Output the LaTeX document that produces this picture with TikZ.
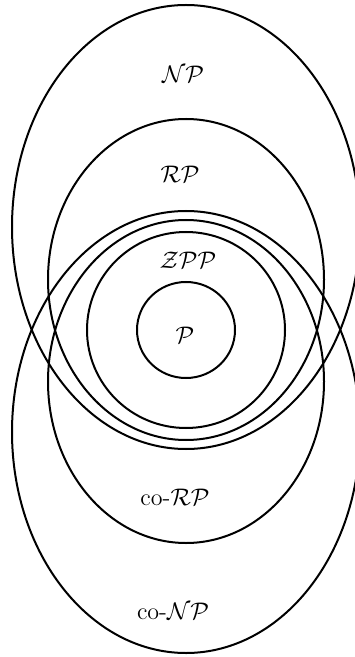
\documentclass[tikz,border=0pt]{standalone}
\usepackage{amsmath, amssymb}
\usepackage{tikz}
\usetikzlibrary{positioning, shapes}
\tikzset{
  classset/.style={ellipse, draw, line width=1pt, inner sep=0pt, outer sep=0pt},
  classlabel/.style={font=\large, inner sep=1pt},
}

\begin{document}
\begin{tikzpicture}[x=0.5pt, y=-0.5pt]
\useasboundingbox (0,0) rectangle (354,657);
\node[classset, minimum width=174pt, minimum height=222pt] (np) at (186,227) {};
\node[classset, minimum width=174pt, minimum height=221pt] (conp) at (186,432) {};
\node[classset, minimum width=138pt, minimum height=160.5pt] (rp) at (186,279.5) {};
\node[classset, minimum width=138pt, minimum height=161.5pt] (corp) at (186,381.5) {};
\node[classset, minimum width=99pt, minimum height=98pt] (zpp) at (186,330) {};
\node[classset, minimum width=49pt, minimum height=48pt] (p) at (186,330) {};
\node[classlabel] (nplab) at (183,74) {$\mathcal{NP}$};
\node[classlabel] (rplab) at (180,174) {$\mathcal{RP}$};
\node[classlabel] (zpplab) at (188,260) {$\mathcal{ZPP}$};
\node[classlabel] (plab) at (185,335) {$\mathcal{P}$};
\node[classlabel] (corplab) at (175,497) {co-$\mathcal{RP}$};
\node[classlabel] (conplab) at (173,611) {co-$\mathcal{NP}$};
\end{tikzpicture}
\end{document}
